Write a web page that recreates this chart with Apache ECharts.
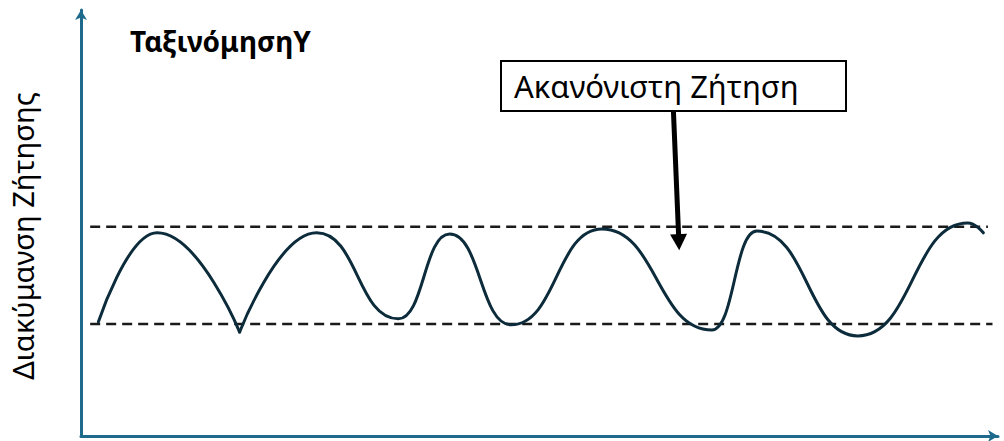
<!DOCTYPE html>
<html>
<head>
<meta charset="utf-8">
<script src="https://cdn.jsdelivr.net/npm/echarts@6/dist/echarts.min.js"></script>
<style>
html,body{margin:0;padding:0;background:#fff;}
#chart{width:1004px;height:441px;}
</style>
</head>
<body>
<div id="chart"></div>
<script>
// ---- data (arbitrary units, x: time 0..100, y: demand 0..100) ----
const titleText = 'ΤαξινόμησηΥ';
const yAxisName = 'Διακύμανση Ζήτησης';
const annotationText = 'Ακανόνιστη Ζήτηση';

// extrema of the demand wave, in order
const demandX = [1.9, 8.3, 17.3, 25.7, 34.6, 40.2, 46.9, 56.8, 68.8, 73.7, 84.7, 96.7, 98.4];
const demandY = [26.8, 47.7, 24.4, 47.7, 27.5, 47.4, 26.1, 48.6, 24.9, 48.1, 23.5, 50.0, 47.7];
const cuspIndex = 2; // sharp corner

const upperBand = 49.1;
const lowerBand = 26.3;
const upperBandX = [1.0, 98.9];
const lowerBandX = [1.0, 99.4];

const arrowFrom = [64.6, 76.5];
const arrowTo = [65.2, 45.5];

// ---- build ----
const pts = demandX.map((x, i) => [x, demandY[i]]);
const segA = pts.slice(0, cuspIndex + 1);
const segB = pts.slice(cuspIndex);

const axisColor = '#1e6a8c';
const curveColor = '#0c2b3b';

const chart = echarts.init(document.getElementById('chart'), null, {renderer: 'svg'});
const curveStyle = {color: curveColor, width: 3, cap: 'round', join: 'round'};
const dashStyle = {color: '#1a1a1a', width: 2.5, type: [10, 6]};

chart.setOption({
  animation: false,
  backgroundColor: '#ffffff',
  title: {
    text: titleText,
    left: 125,
    top: 22,
    textStyle: {fontFamily: 'Noto Sans', fontWeight: 'bold', fontSize: 28, color: '#000'}
  },
  grid: {left: 81, right: 6, top: 10, bottom: 5},
  xAxis: {
    type: 'value', min: 0, max: 100,
    axisLine: {show: true, symbol: ['none', 'arrow'], symbolSize: [9, 10],
      lineStyle: {color: axisColor, width: 3}},
    axisTick: {show: false}, axisLabel: {show: false}, splitLine: {show: false}
  },
  yAxis: {
    type: 'value', min: 0, max: 100,
    name: yAxisName,
    nameLocation: 'middle',
    nameRotate: 90,
    nameGap: 44,
    nameTextStyle: {fontFamily: 'Noto Sans', fontSize: 29, color: '#000', padding: [0, 26, 0, 0]},
    axisLine: {show: true, symbol: ['none', 'arrow'], symbolSize: [9, 10],
      lineStyle: {color: axisColor, width: 3}},
    axisTick: {show: false}, axisLabel: {show: false}, splitLine: {show: false}
  },
  graphic: [{
    type: 'group',
    left: 500, top: 60,
    children: [
      {type: 'rect', shape: {x: 0, y: 0, width: 345, height: 50},
        style: {fill: '#fff', stroke: '#000', lineWidth: 2}},
      {type: 'text', x: 13, y: 25,
        style: {text: annotationText, fontFamily: 'Noto Sans', fontSize: 31,
          fill: '#000', verticalAlign: 'middle', textAlign: 'left'}}
    ]
  }],
  series: [
    {type: 'line', data: [[upperBandX[0], upperBand], [upperBandX[1], upperBand]],
      symbol: 'none', lineStyle: dashStyle, silent: true},
    {type: 'line', data: [[lowerBandX[0], lowerBand], [lowerBandX[1], lowerBand]],
      symbol: 'none', lineStyle: dashStyle, silent: true},
    {type: 'line', data: segA, symbol: 'none', smooth: 0.5, smoothMonotone: 'x',
      lineStyle: curveStyle, silent: true},
    {type: 'line', data: segB, symbol: 'none', smooth: 0.5, smoothMonotone: 'x',
      lineStyle: curveStyle, silent: true},
    {type: 'line', data: [], silent: true,
      markLine: {
        silent: true,
        symbol: ['none', 'triangle'],
        symbolSize: [17, 16],
        label: {show: false},
        lineStyle: {color: '#000', width: 5, type: 'solid'},
        data: [[{coord: arrowFrom}, {coord: arrowTo}]]
      }}
  ]
});
</script>
</body>
</html>
